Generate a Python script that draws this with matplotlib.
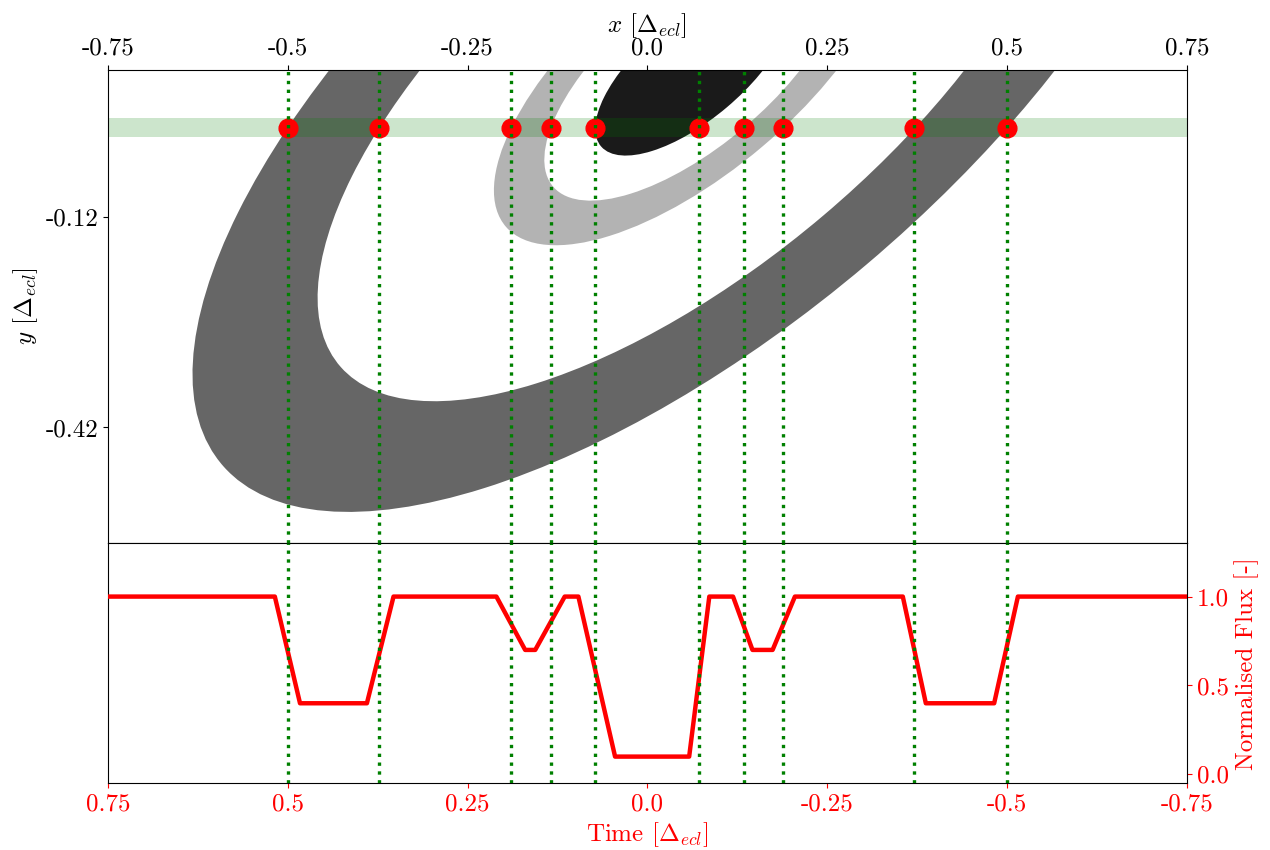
import numpy as np
import matplotlib
matplotlib.use('Agg')
import matplotlib.pyplot as plt
from matplotlib.patches import Ellipse

plt.rcParams['font.family'] = ['cmr10', 'DejaVu Serif']
plt.rcParams['mathtext.fontset'] = 'cm'
plt.rcParams['axes.formatter.use_mathtext'] = True
plt.rcParams['axes.unicode_minus'] = False

# ---------------- data ----------------
# ring system (concentric tilted ellipses)
ring_center = (0.0634, 0.0904)
ring_tilt = 40.93
ring_axis_ratio = 0.4263
ring_semi_major = [0.8639, 0.6480, 0.3437, 0.2567, 0.1688]
ring_fill = ['0.4', 'white', '0.7', 'white', '0.1']

# stellar path band
band_y = 0.007
band_halfwidth = 0.013

# x positions where ring edges cross the star path
crossing_x = [-0.500, -0.3725, -0.1898, -0.1346, -0.073,
              0.072, 0.1337, 0.1888, 0.3705, 0.4995]

# light curve
lc_time = [0.75, 0.518, 0.483, 0.390, 0.353, 0.210, 0.170, 0.156, 0.115,
           0.096, 0.045, -0.058, -0.086, -0.119, -0.146, -0.174, -0.205,
           -0.355, -0.387, -0.482, -0.515, -0.75]
lc_flux = [1.0, 1.0, 0.4, 0.4, 1.0, 1.0, 0.7, 0.7, 1.0,
           1.0, 0.1, 0.1, 1.0, 1.0, 0.7, 0.7, 1.0,
           1.0, 0.4, 0.4, 1.0, 1.0]

x_ticks = [-0.75, -0.5, -0.25, 0.0, 0.25, 0.5, 0.75]
x_ticklabels = ['-0.75', '-0.5', '-0.25', '0.0', '0.25', '0.5', '0.75']
time_ticks = [0.75, 0.5, 0.25, 0.0, -0.25, -0.5, -0.75]
time_ticklabels = ['0.75', '0.5', '0.25', '0.0', '-0.25', '-0.5', '-0.75']
y_ticks = [-0.12, -0.42]
y_ticklabels = ['-0.12', '-0.42']
flux_ticks = [0.0, 0.5, 1.0]
flux_ticklabels = ['0.0', '0.5', '1.0']

FS = 18

fig = plt.figure(figsize=(12.7, 8.5), dpi=100)
ax1 = fig.add_axes([0.0850, 0.3608, 0.8496, 0.5574])
ax2 = fig.add_axes([0.0850, 0.0785, 0.8496, 0.2824])

# ---------------- top panel ----------------
for a, col in zip(ring_semi_major, ring_fill):
    e = Ellipse(ring_center, 2 * a, 2 * a * ring_axis_ratio, angle=ring_tilt,
                facecolor=col, edgecolor='none', zorder=1)
    ax1.add_patch(e)

ax1.axhspan(band_y - band_halfwidth, band_y + band_halfwidth,
            color='g', alpha=0.2, lw=0, zorder=2)
ax1.plot(crossing_x, [band_y] * len(crossing_x), 'o', color='red',
         markersize=13.5, zorder=3, clip_on=False)
for xc in crossing_x:
    ax1.axvline(xc, color='green', ls=':', lw=2.4, zorder=4)

ax1.set_xlim(-0.75, 0.75)
ax1.set_ylim(-0.585, 0.0897)
ax1.xaxis.tick_top()
ax1.xaxis.set_label_position('top')
ax1.set_xticks(x_ticks)
ax1.set_xticklabels(x_ticklabels)
ax1.set_yticks(y_ticks)
ax1.set_yticklabels(y_ticklabels)
ax1.tick_params(labelsize=FS)
ax1.set_xlabel(r'$x$ [$\Delta_{ecl}$]', fontsize=FS)
ax1.set_ylabel(r'$y$ [$\Delta_{ecl}$]', fontsize=FS)

# ---------------- bottom panel ----------------
ax2.plot(lc_time, lc_flux, color='red', lw=3.2, zorder=3,
         solid_joinstyle='round')
for xc in crossing_x:
    ax2.axvline(-xc, color='green', ls=':', lw=2.4, zorder=4)
ax2.set_xlim(0.75, -0.75)
ax2.set_ylim(-0.05, 1.3)
ax2.set_xticks(time_ticks)
ax2.set_xticklabels(time_ticklabels)
ax2.yaxis.tick_right()
ax2.yaxis.set_label_position('right')
ax2.set_yticks(flux_ticks)
ax2.set_yticklabels(flux_ticklabels)
ax2.tick_params(axis='both', colors='red', labelsize=FS)
ax2.set_xlabel(r'Time [$\Delta_{ecl}$]', fontsize=FS, color='red')
ax2.set_ylabel('Normalised Flux [-]', fontsize=FS, color='red')

fig.savefig('out.png', dpi=100)
